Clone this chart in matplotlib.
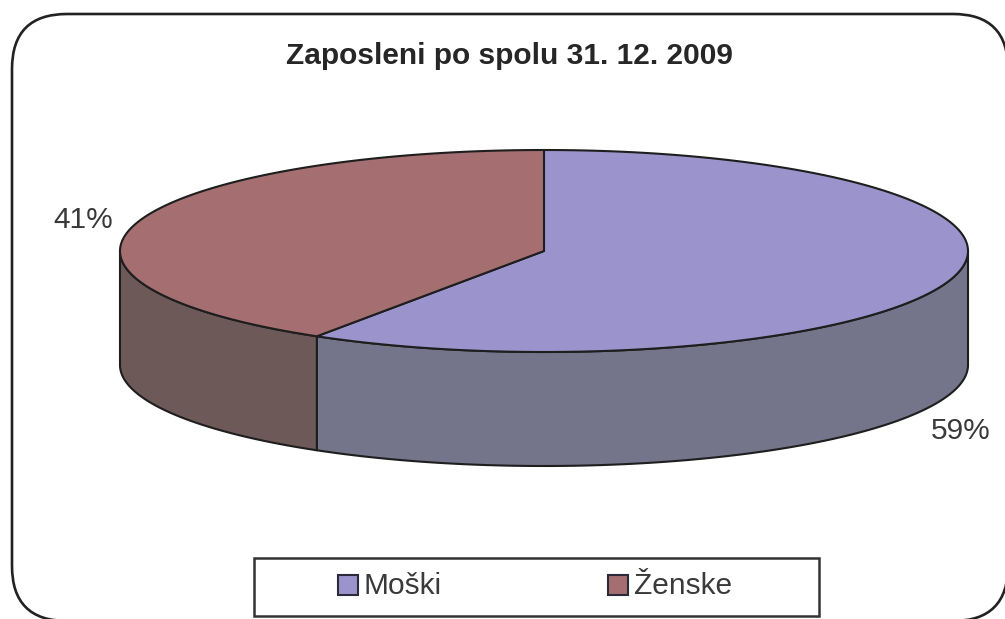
import numpy as np
import matplotlib
matplotlib.use("Agg")
import matplotlib.pyplot as plt
from matplotlib.patches import Polygon, FancyBboxPatch, Rectangle

# ---- data ----
categories = ["Moški", "Ženske"]
shares = [59, 41]
title = "Zaposleni po spolu 31. 12. 2009"

# ---- style ----
top_colors = ["#9b94cc", "#a56f71"]
side_colors = ["#74748b", "#6e5959"]
edge = "#1e1e1e"
plt.rcParams["font.family"] = ["Liberation Sans", "DejaVu Sans"]

W, H = 1005, 619
fig = plt.figure(figsize=(W / 100, H / 100), dpi=100)
ax = fig.add_axes([0, 0, 1, 1])
ax.set_xlim(0, W)
ax.set_ylim(H, 0)
ax.axis("off")

# outer rounded frame
frame = FancyBboxPatch((12, 14), 996, 607,
                       boxstyle="round,pad=0,rounding_size=55",
                       fc="white", ec="#222222", lw=1.9, zorder=0)
ax.add_patch(frame)

# 3D pie geometry (pixel units)
cx, cy, a, b, depth = 544, 251, 424, 101, 114


def pt(theta_deg, dy=0.0):
    t = np.radians(theta_deg)
    return cx + a * np.sin(t), cy - b * np.cos(t) + dy


total = float(sum(shares))
bounds = np.concatenate([[0], np.cumsum(shares) / total * 360.0])

# sides (front half only: 90..270 degrees clockwise from top)
for i in range(len(shares)):
    t1, t2 = max(bounds[i], 90), min(bounds[i + 1], 270)
    if t2 <= t1:
        continue
    th = np.linspace(t1, t2, 200)
    xs, ys = pt(th)
    xb, yb = pt(th[::-1], depth)
    poly = np.column_stack([np.concatenate([xs, xb]), np.concatenate([ys, yb])])
    ax.add_patch(Polygon(poly, closed=True, fc=side_colors[i], ec=edge,
                         lw=1.5, joinstyle="round", zorder=2))

# tops
for i in range(len(shares)):
    th = np.linspace(bounds[i], bounds[i + 1], 300)
    xs, ys = pt(th)
    poly = np.column_stack([np.concatenate([[cx], xs]), np.concatenate([[cy], ys])])
    ax.add_patch(Polygon(poly, closed=True, fc=top_colors[i], ec=edge,
                         lw=1.5, joinstyle="round", zorder=3))

# percentage labels
label_pos = [(961, 431), (83, 220)]
for (x, y), v in zip(label_pos, shares):
    ax.text(x, y, f"{v}%", ha="center", va="center", fontsize=21.5,
            color="#3a3a3a", zorder=5)

# title
ax.text(509, 56, title, ha="center", va="center", fontsize=21.5,
        fontweight="bold", color="#262626", zorder=5)

# legend
ax.add_patch(Rectangle((254, 558), 565, 58, fc="white", ec="#333333",
                       lw=1.8, zorder=4))
leg_x = [338, 608]
for x, c, name in zip(leg_x, top_colors, categories):
    ax.add_patch(Rectangle((x, 575), 20, 20, fc=c, ec="#2a2a3a", lw=1.5, zorder=5))
    ax.text(x + 26, 586, name, ha="left", va="center", fontsize=21.5,
            color="#3a3a3a", zorder=5)

fig.savefig("out.png", dpi=100)
